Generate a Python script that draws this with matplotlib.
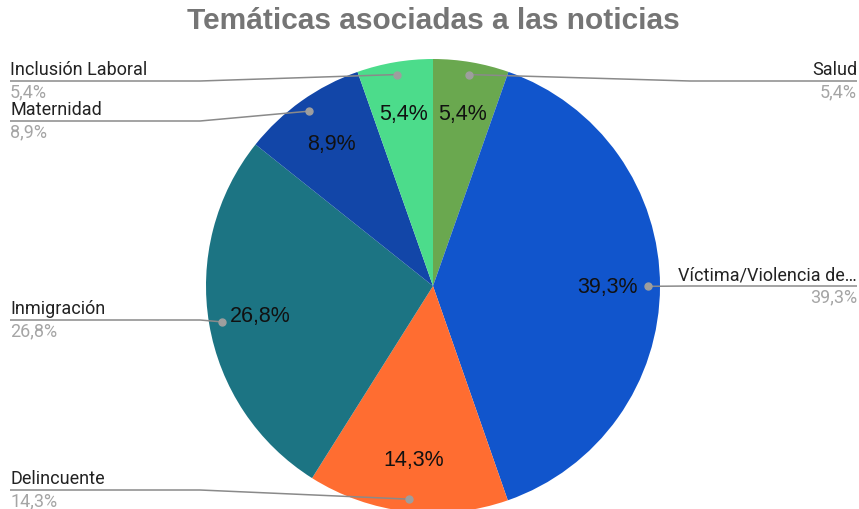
import numpy as np
import matplotlib
matplotlib.use("Agg")
import matplotlib.pyplot as plt

W, H = 859, 510

# data (share of news per topic, clockwise from the top)
topics = ["Salud", "Víctima/Violencia de…", "Delincuente", "Inmigración",
          "Maternidad", "Inclusión Laboral"]
shares = [5.4, 39.3, 14.3, 26.8, 8.9, 5.4]
colors = ["#6aa84f", "#1155cc", "#ff6d31", "#1c7483", "#1246a8", "#4cdc8b"]

# label layout: side and pixel row of the underline
label_side = ["right", "right", "left", "left", "left", "left"]
label_line_y = [82, 287, 491, 321, 122, 82]

CX, CY, R = 433, 287, 227

plt.rcParams["font.family"] = ["Liberation Sans", "DejaVu Sans"]
LABEL_FONT = ["Roboto", "DejaVu Sans"]

fig = plt.figure(figsize=(W / 100, H / 100), dpi=100)
ax = fig.add_axes([0, 0, 1, 1])


def fy(y):
    return H - y


def fmt(v):
    return f"{v:.1f}%".replace(".", ",")


wedges, texts, autotexts = ax.pie(
    shares,
    colors=colors,
    startangle=90,
    counterclock=False,
    center=(CX, fy(CY)),
    radius=R,
    autopct=lambda p: fmt(p),
    pctdistance=0.77,
    textprops={"fontsize": 15.5, "color": "#111111"},
    wedgeprops={"linewidth": 0},
    frame=True,
)
ax.set_xlim(0, W)
ax.set_ylim(0, H)
ax.set_aspect("equal")
ax.axis("off")

for w, name, val, side, ly in zip(wedges, topics, shares, label_side, label_line_y):
    ang = np.deg2rad((w.theta1 + w.theta2) / 2)
    dx = CX + 0.945 * R * np.cos(ang)
    dy = fy(CY) + 0.945 * R * np.sin(ang)
    if side == "right":
        elbow, end = 690, 857
        ha, tx = "right", 857
    else:
        elbow, end = 200, 10
        ha, tx = "left", 10
    ax.plot([dx, elbow, end], [dy, fy(ly), fy(ly)], color="#8a8a8a", lw=1.1,
            solid_capstyle="butt", zorder=3)
    ax.plot([dx], [dy], "o", color="#9e9e9e", ms=5, zorder=4)
    ax.text(tx, fy(ly) + 3, name, ha=ha, va="bottom", fontsize=13,
            color="#222222", family=LABEL_FONT)
    ax.text(tx, fy(ly) - 1, fmt(val), ha=ha, va="top", fontsize=13,
            color="#a5a5a5", family=LABEL_FONT)

fig.text(433 / W, 1 - 21 / H, "Temáticas asociadas a las noticias", ha="center",
         va="center", fontsize=21.5, fontweight="bold", color="#757575")

fig.savefig("out.png", dpi=100)
